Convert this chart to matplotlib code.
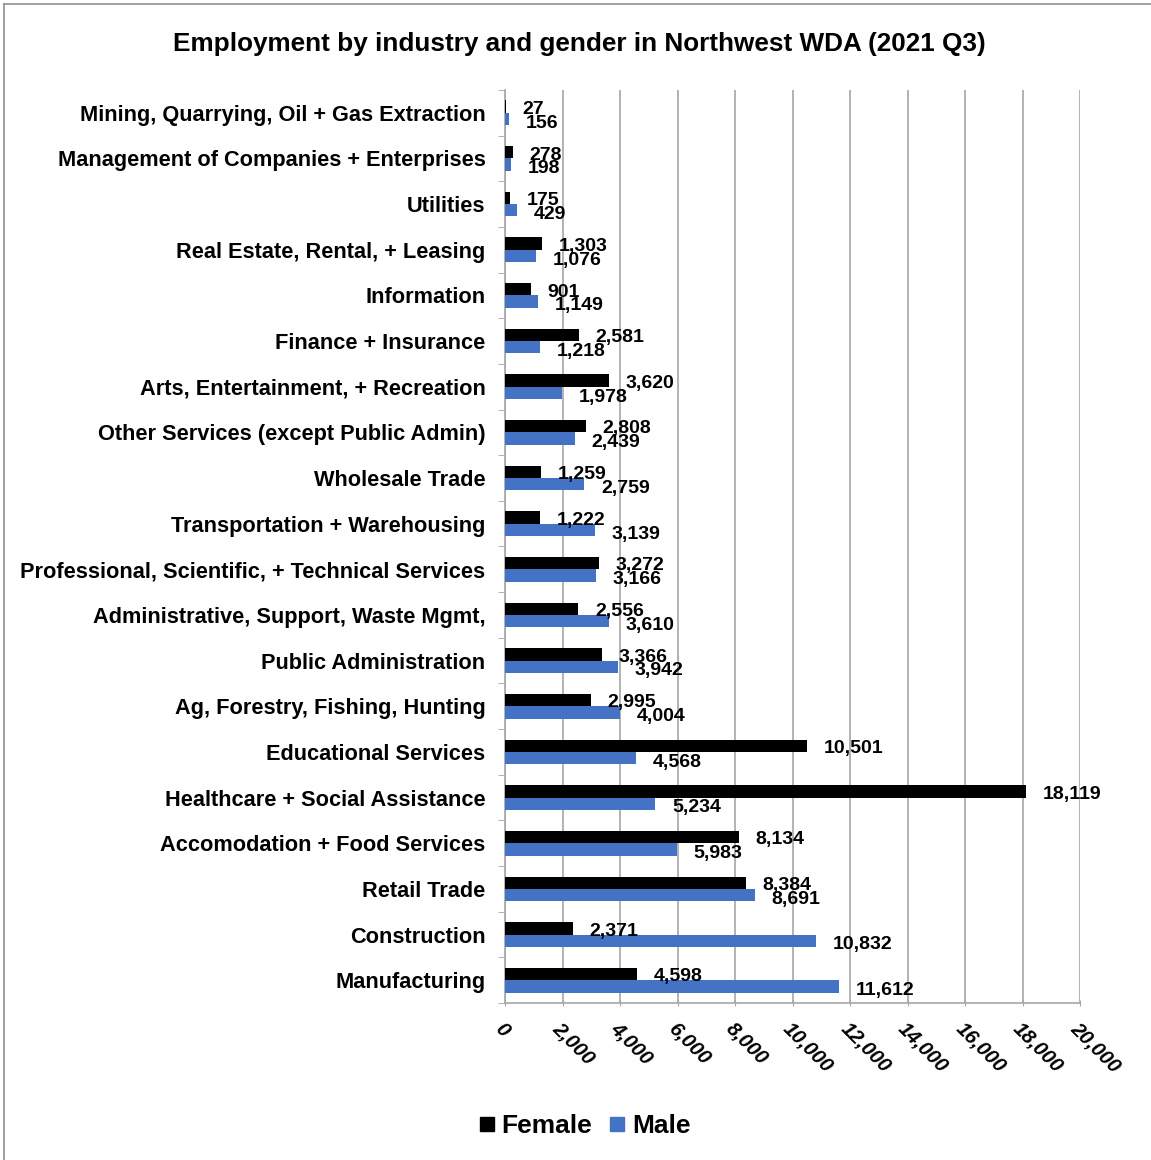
import matplotlib.pyplot as plt
from matplotlib.lines import Line2D
from matplotlib.ticker import FuncFormatter, FixedLocator
import numpy as np

plt.rcParams['font.family'] = ['Liberation Sans', 'DejaVu Sans']
plt.rcParams['font.weight'] = 'bold'

# categories listed bottom to top
industries = [
    "Manufacturing",
    "Construction",
    "Retail Trade",
    "Accomodation + Food Services",
    "Healthcare + Social Assistance",
    "Educational Services",
    "Ag, Forestry, Fishing, Hunting",
    "Public Administration",
    "Administrative, Support, Waste Mgmt,",
    "Professional, Scientific, + Technical Services",
    "Transportation + Warehousing",
    "Wholesale Trade",
    "Other Services (except Public Admin)",
    "Arts, Entertainment, + Recreation",
    "Finance + Insurance",
    "Information",
    "Real Estate, Rental, + Leasing",
    "Utilities",
    "Management of Companies + Enterprises",
    "Mining, Quarrying, Oil + Gas Extraction",
]
female = [4598, 2371, 8384, 8134, 18119, 10501, 2995, 3366, 2556, 3272,
          1222, 1259, 2808, 3620, 2581, 901, 1303, 175, 278, 27]
male = [11612, 10832, 8691, 5983, 5234, 4568, 4004, 3942, 3610, 3166,
        3139, 2759, 2439, 1978, 1218, 1149, 1076, 429, 198, 156]
x_ticks = list(range(0, 20001, 2000))

FEMALE_COLOR = "#000000"
MALE_COLOR = "#4472C4"

fig = plt.figure(figsize=(11.51, 11.60), dpi=100)
ax = fig.add_axes([505 / 1151, 1 - 1003 / 1160, 575 / 1151, 913 / 1160])

y = np.arange(len(industries))
h = 0.27
ax.barh(y + h / 2, female, height=h, color=FEMALE_COLOR, zorder=3)
ax.barh(y - h / 2, male, height=h, color=MALE_COLOR, zorder=3)

# value labels
for yi, f, m in zip(y, female, male):
    ax.annotate(f"{f:,}", (f, yi + h / 2), xytext=(12, -2), textcoords="offset points",
                va="center", ha="left", fontsize=14, fontweight="bold", zorder=4)
    ax.annotate(f"{m:,}", (m, yi - h / 2), xytext=(12, -3), textcoords="offset points",
                va="center", ha="left", fontsize=14, fontweight="bold", zorder=4)

ax.set_xlim(0, 20000)
ax.set_ylim(-0.5, len(industries) - 0.5)
ax.xaxis.set_major_locator(FixedLocator(x_ticks))
ax.xaxis.set_major_formatter(FuncFormatter(lambda v, p: f"{int(v):,}"))
ax.grid(axis="x", color="#a6a6a6", linewidth=1.2, zorder=0)

ax.set_yticks(y)
ax.set_yticklabels(industries, fontsize=15.7, fontweight="bold")
ax.tick_params(axis="y", length=0, pad=14)
ax.set_yticks(np.arange(-0.5, len(industries)), minor=True)
ax.tick_params(axis="y", which="minor", length=5, color="#a6a6a6", direction="out")
ax.tick_params(axis="x", length=5, color="#a6a6a6", direction="inout", pad=9)
for lbl in ax.get_xticklabels():
    lbl.set_rotation(-45)
    lbl.set_ha("left")
    lbl.set_va("top")
    lbl.set_fontsize(14.5)
    lbl.set_fontstyle("italic")
    lbl.set_fontweight("bold")
    lbl.set_rotation_mode("anchor")

for side in ["top", "right"]:
    ax.spines[side].set_visible(False)
for side in ["left", "bottom"]:
    ax.spines[side].set_color("#a6a6a6")
    ax.spines[side].set_linewidth(1.2)

fig.text(579 / 1151, 1 - 44 / 1160, "Employment by industry and gender in Northwest WDA (2021 Q3)",
         ha="center", va="center", fontsize=18.8, fontweight="bold")

handles = [Line2D([], [], marker="s", linestyle="none", markersize=10, color=FEMALE_COLOR),
           Line2D([], [], marker="s", linestyle="none", markersize=10, color=MALE_COLOR)]
fig.legend(handles, ["Female", "Male"], loc="center", bbox_to_anchor=(584 / 1151, 1 - 1126 / 1160),
           ncol=2, frameon=False, handlelength=0.7, handletextpad=0.2, columnspacing=0.6,
           prop={"weight": "bold", "size": 19})

# thin frame on the left and top edges of the figure
fig.add_artist(Line2D([4 / 1151, 4 / 1151], [0, 1 - 4 / 1160], transform=fig.transFigure,
                      color="#909090", linewidth=1.2))
fig.add_artist(Line2D([4 / 1151, 1], [1 - 4 / 1160, 1 - 4 / 1160], transform=fig.transFigure,
                      color="#909090", linewidth=1.2))

fig.savefig("out.png", dpi=100)
